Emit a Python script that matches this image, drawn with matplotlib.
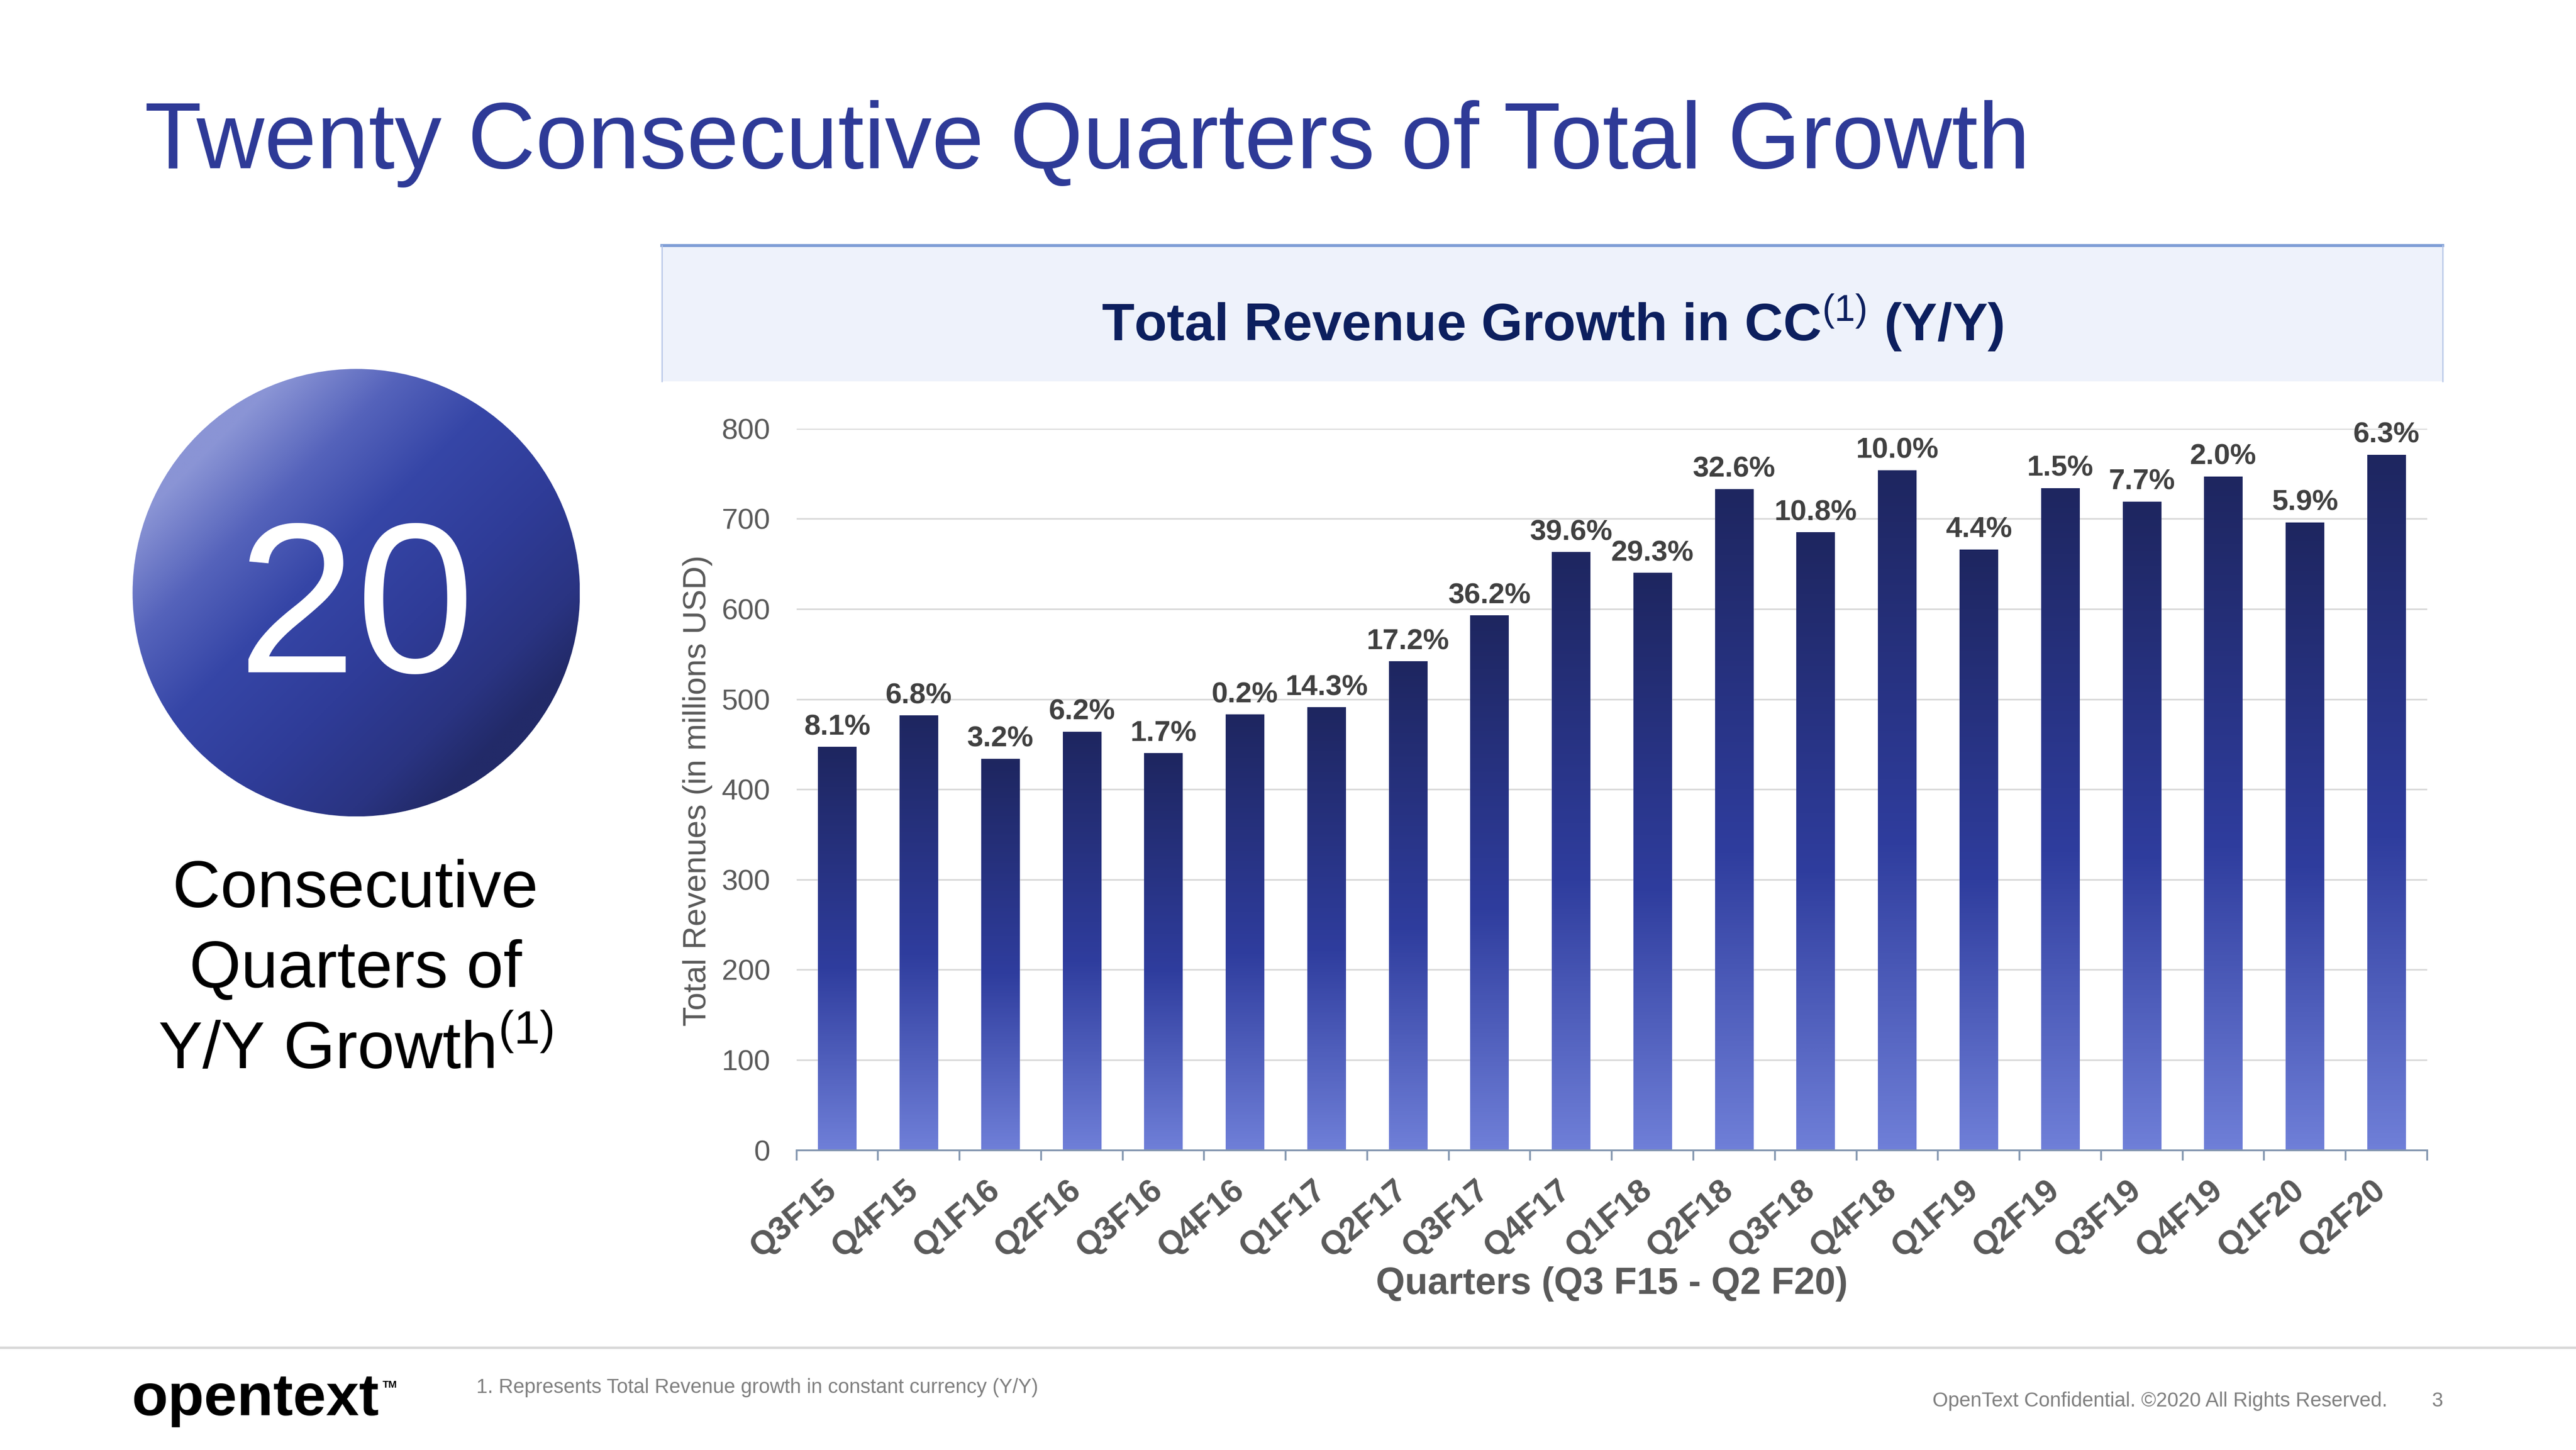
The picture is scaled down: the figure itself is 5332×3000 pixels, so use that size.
import numpy as np
import matplotlib
matplotlib.use('Agg')
import matplotlib.pyplot as plt
from matplotlib.colors import LinearSegmentedColormap
from matplotlib.patches import Rectangle, Circle
from matplotlib.lines import Line2D
from matplotlib.transforms import ScaledTranslation

plt.rcParams['font.family'] = ['Liberation Sans', 'DejaVu Sans']
plt.rcParams['mathtext.fontset'] = 'custom'
plt.rcParams['mathtext.rm'] = 'Liberation Sans'
plt.rcParams['mathtext.it'] = 'Liberation Sans:italic'
plt.rcParams['mathtext.bf'] = 'Liberation Sans:bold'

# ---------------- data ----------------
quarters = ['Q3F15', 'Q4F15', 'Q1F16', 'Q2F16', 'Q3F16', 'Q4F16', 'Q1F17', 'Q2F17',
            'Q3F17', 'Q4F17', 'Q1F18', 'Q2F18', 'Q3F18', 'Q4F18', 'Q1F19', 'Q2F19',
            'Q3F19', 'Q4F19', 'Q1F20', 'Q2F20']
revenues = [447, 482, 434, 464, 440, 483, 491, 542, 593, 663,
            640, 733, 685, 754, 666, 734, 719, 747, 696, 771]
growth_labels = ['8.1%', '6.8%', '3.2%', '6.2%', '1.7%', '0.2%', '14.3%', '17.2%',
                 '36.2%', '39.6%', '29.3%', '32.6%', '10.8%', '10.0%', '4.4%', '1.5%',
                 '7.7%', '2.0%', '5.9%', '6.3%']
y_ticks = [0, 100, 200, 300, 400, 500, 600, 700, 800]

W, H, DPI = 5332, 3000, 300
fig = plt.figure(figsize=(W / DPI, H / DPI), dpi=DPI)
fig.patch.set_facecolor('white')

# ---------------- slide title ----------------
fig.text(0.0561, 0.8841, 'Twenty Consecutive Quarters of Total Growth', fontsize=46.6,
         color='#2E3A97', ha='left', va='baseline')

# ---------------- chart title box ----------------
bx0, bx1, by0, by1 = 0.2569, 0.9482, 0.737, 0.8307
fig.patches.append(Rectangle((bx0, by0), bx1 - bx0, by1 - by0, transform=fig.transFigure,
                             facecolor='#EEF2FB', edgecolor='none', zorder=0))
fig.add_artist(Line2D([bx0, bx1], [by1, by1], transform=fig.transFigure, color='#7F9ED6', lw=1.5))
fig.add_artist(Line2D([bx0, bx0], [by0, by1], transform=fig.transFigure, color='#B4C4E6', lw=0.6))
fig.add_artist(Line2D([bx1, bx1], [by0, by1], transform=fig.transFigure, color='#B4C4E6', lw=0.6))
fig.text(0.6027, 0.765, 'Total Revenue Growth in CC$^{(1)}$ (Y/Y)', fontsize=26.5,
         fontweight='bold', color='#0C1F5E', ha='center', va='baseline')

# ---------------- bar chart ----------------
ax = fig.add_axes([0.3092, 0.2068, 0.9422 - 0.3092, 0.7044 - 0.2068])
x = np.arange(len(quarters))
bars = ax.bar(x, revenues, width=0.47, color='none', edgecolor='none', zorder=2)
grad = np.linspace(0, 1, 256).reshape(-1, 1)
bar_cmap = LinearSegmentedColormap.from_list(
    'bar', [(0.0, '#6F7FD8'), (0.45, '#2F3D9E'), (1.0, '#1E2660')])
for b in bars:
    x0, y0, w, h = b.get_x(), b.get_y(), b.get_width(), b.get_height()
    ax.imshow(grad, extent=(x0, x0 + w, y0, y0 + h), origin='lower', cmap=bar_cmap,
              aspect='auto', zorder=2, interpolation='bilinear')
ax.set_xlim(-0.5, len(quarters) - 0.5)
ax.set_ylim(0, 800)

for xi, v, lab in zip(x, revenues, growth_labels):
    ax.annotate(lab, (xi, v), xytext=(0, 6), textcoords='offset points', ha='center',
                va='baseline', fontsize=14.5, fontweight='bold', color='#404040')

ax.set_yticks(y_ticks)
ax.yaxis.grid(True, color='#D9D9D9', lw=0.8)
ax.set_axisbelow(True)
for s in ['left', 'top', 'right']:
    ax.spines[s].set_visible(False)
ax.spines['bottom'].set_color('#8497B0')
ax.spines['bottom'].set_linewidth(0.9)
ax.tick_params(axis='y', length=0, pad=13, labelsize=14.5, labelcolor='#595959')

ax.set_xticks(x)
ax.set_xticks(np.arange(-0.5, len(quarters), 1.0), minor=True)
ax.tick_params(axis='x', which='minor', length=5, width=0.9, color='#8497B0', direction='out')
ax.tick_params(axis='x', which='major', length=0, pad=18)
ax.set_xticklabels(quarters, rotation=40, ha='right', va='center', rotation_mode='anchor',
                   fontsize=16.5, fontweight='bold', color='#595959')
for lab in ax.get_xticklabels():
    lab.set_transform(lab.get_transform() + ScaledTranslation(-2.5 / 72, 0, fig.dpi_scale_trans))

fig.text(0.2709, 0.4547, 'Total Revenues (in millions USD)', rotation=90, ha='center',
         va='center', fontsize=16, color='#595959')
fig.text(0.6257, 0.1077, 'Quarters (Q3 F15 - Q2 F20)', ha='center', va='baseline',
         fontsize=18.5, fontweight='bold', color='#595959')

# ---------------- circle badge ----------------
cax = fig.add_axes([0.05147, 0.4369, 0.17367, 0.30867])
cax.set_xlim(-1, 1)
cax.set_ylim(-1, 1)
cax.axis('off')
n = 600
xx, yy = np.meshgrid(np.linspace(-1, 1, n), np.linspace(-1, 1, n))
sv = np.clip((xx - yy) / 2.6 + 0.5, 0, 1)
circ_cmap = LinearSegmentedColormap.from_list(
    'circ', [(0.0, '#8A94D5'), (0.2, '#5563BB'), (0.4, '#3646A7'),
             (0.65, '#2F3C98'), (0.87, '#2A3482'), (1.0, '#222A68')])
im = cax.imshow(sv, extent=(-1, 1, -1, 1), origin='lower', cmap=circ_cmap, vmin=0, vmax=1,
                aspect='auto', interpolation='bilinear')
circ = Circle((0, 0), 1, transform=cax.transData, facecolor='none', edgecolor='none')
cax.add_patch(circ)
im.set_clip_path(circ)

fig.text(0.1383, 0.5363, '20', fontsize=106, color='white', ha='center', va='baseline')
fig.text(0.138, 0.3743, 'Consecutive', fontsize=33, color='black', ha='center', va='baseline')
fig.text(0.138, 0.319, 'Quarters of', fontsize=33, color='black', ha='center', va='baseline')
fig.text(0.138, 0.263, 'Y/Y Growth$^{(1)}$', fontsize=33, color='black', ha='center', va='baseline')

# ---------------- footer ----------------
fig.add_artist(Line2D([0, 1], [0.0707, 0.0707], transform=fig.transFigure, color='#D9D9D9', lw=1.2))
fig.text(0.051, 0.024, 'opentext', fontsize=29.5, fontweight='bold', color='black',
         ha='left', va='baseline')
fig.text(0.1485, 0.043, 'TM', fontsize=5, fontweight='bold', color='black', ha='left', va='baseline')
fig.text(0.185, 0.0393, '1. Represents Total Revenue growth in constant currency (Y/Y)',
         fontsize=10, color='#7F7F7F', ha='left', va='baseline')
fig.text(0.9267, 0.03, 'OpenText Confidential. \u00a92020 All Rights Reserved.', fontsize=10,
         color='#7F7F7F', ha='right', va='baseline')
fig.text(0.9483, 0.03, '3', fontsize=10, color='#7F7F7F', ha='right', va='baseline')

fig.savefig('out.png', dpi=DPI)
